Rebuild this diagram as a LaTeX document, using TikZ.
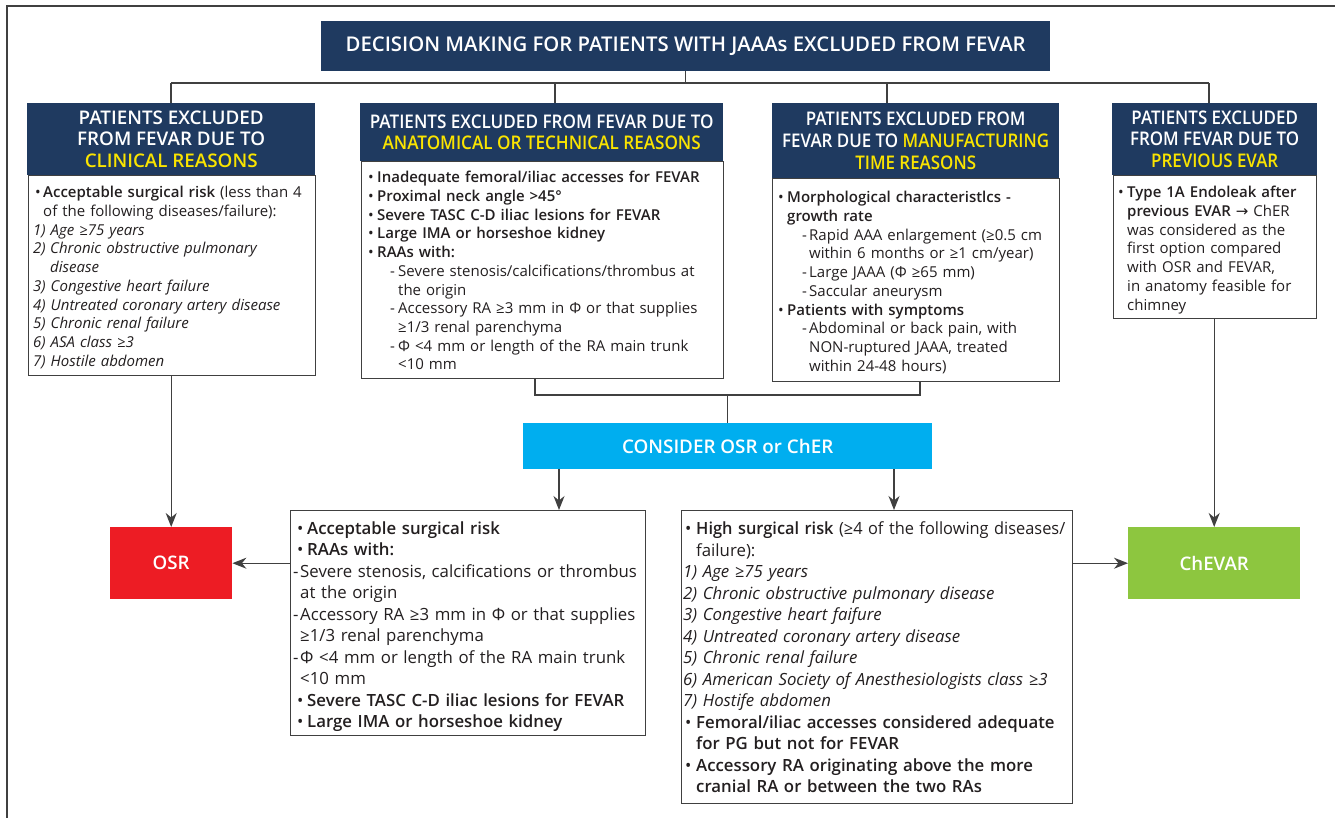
\documentclass[tikz,border=0pt]{standalone}
\usepackage{fontspec}
\setmainfont{Open Sans}[BoldFont={Open Sans Semibold}]
\newfontfamily\symfont{DejaVu Sans}
\usetikzlibrary{arrows.meta}
\definecolor{navy}{RGB}{31,58,96}
\definecolor{hyel}{RGB}{250,228,0}
\definecolor{cyanbox}{RGB}{0,174,239}
\definecolor{osrred}{RGB}{237,28,36}
\definecolor{chgreen}{RGB}{141,198,63}
\definecolor{txt}{RGB}{35,31,32}
\definecolor{lncol}{RGB}{64,64,64}
\newcommand\topfont{\fontsize{15}{18.7}\selectfont\hyphenpenalty=10000 }
\newcommand\botfont{\fontsize{16.8}{21.5}\selectfont\hyphenpenalty=10000 }
\newcommand\hdfont{\fontsize{18.8}{21.7}\selectfont\bfseries}
\newcommand\li[3]{\par\leftskip=#1\relax\hangindent=#2\relax\hangafter=1\noindent\makebox[#2][l]{#3}}
\newcommand\rarr{{\symfont →}}
\newcommand\sx[2]{\scalebox{#1}[1]{#2}}
\begin{document}
\begin{tikzpicture}[x=1pt,y=-1pt,
  lnst/.style={draw=lncol, line width=1.3pt},
  arr/.style={lnst, -{Stealth[length=14pt,width=11pt,inset=4.5pt]}},
  hdr/.style={fill=navy, text=white, font=\hdfont, align=center, inner sep=0pt, anchor=north west},
  lbox/.style={draw=lncol, line width=1.3pt, fill=white, anchor=north west, inner sep=0pt},
  ltext/.style={anchor=north west, inner sep=0pt, align=left, text=txt},
  fbox/.style={text=white, anchor=north west, inner sep=0pt, align=center},
]
\useasboundingbox (0,0) rectangle (1335,818);
\fill[white] (0,0) rectangle (1335,818);
\draw[lnst] (1335,6) -- (7,6) -- (7,818);

% title
\node[hdr, minimum width=729pt, minimum height=50pt, font=\fontsize{20.3}{24}\selectfont\bfseries] (title) at (321,21) {DECISION MAKING FOR PATIENTS WITH JAAAs EXCLUDED FROM FEVAR};

% boxes (top row)
\node[lbox, minimum width=287pt, minimum height=200pt] (b1) at (28,175) {};
\node[lbox, minimum width=362pt, minimum height=217pt] (b2) at (361,161) {};
\node[lbox, minimum width=287pt, minimum height=203pt] (b3) at (772,178) {};
\node[lbox, minimum width=203pt, minimum height=143pt] (b4) at (1113,175) {};

% headers
\node[hdr, minimum width=288pt, minimum height=72pt] (h1) at (27,103) {PATIENTS EXCLUDED\\FROM FEVAR DUE TO\\\textcolor{hyel}{CLINICAL REASONS}};
\node[hdr, minimum width=363pt, minimum height=58pt] (h2) at (360,103) {\sx{0.91}{PATIENTS EXCLUDED FROM FEVAR DUE TO}\\\sx{0.91}{\textcolor{hyel}{ANATOMICAL OR TECHNICAL REASONS}}};
\node[hdr, minimum width=287pt, minimum height=75pt] (h3) at (772,103) {\sx{0.9}{PATIENTS EXCLUDED FROM}\\\sx{0.9}{FEVAR DUE TO \textcolor{hyel}{MANUFACTURING}}\\\sx{0.9}{\textcolor{hyel}{TIME REASONS}}};
\node[hdr, minimum width=205pt, minimum height=72pt] (h4) at (1112,103) {\sx{0.9}{PATIENTS EXCLUDED}\\\sx{0.9}{FROM FEVAR DUE TO}\\\sx{0.9}{\textcolor{hyel}{PREVIOUS EVAR}}};

% box texts
\node[ltext, text width=300pt, font=\topfont] (t1) at (35,179) {%
\li{0pt}{8pt}{•}\textbf{Acceptable surgical risk} (less than 4\newline of the following diseases/failure):
\itshape
\li{-2pt}{0pt}{}1) Age ≥75 years
\li{-2pt}{17pt}{2)}Chronic obstructive pulmonary\newline disease
\li{-2pt}{0pt}{}3) Congestive heart failure
\li{-2pt}{0pt}{}4) Untreated coronary artery disease
\li{-2pt}{0pt}{}5) Chronic renal failure
\li{-2pt}{0pt}{}6) ASA class ≥3
\li{-2pt}{0pt}{}7) Hostile abdomen\par};

\node[ltext, text width=370pt, font=\topfont] (t2) at (368,164) {%
\li{0pt}{9pt}{•}\textbf{Inadequate femoral/iliac accesses for FEVAR}
\li{0pt}{9pt}{•}\textbf{Proximal neck angle >45°}
\li{0pt}{9pt}{•}\textbf{Severe TASC C-D iliac lesions for FEVAR}
\li{0pt}{9pt}{•}\textbf{Large IMA or horseshoe kidney}
\li{0pt}{9pt}{•}\textbf{RAAs with:}
\li{22pt}{8pt}{-}Severe stenosis/calcifications/thrombus at\newline the origin
\li{22pt}{8pt}{-}Accessory RA ≥3 mm in Φ or that supplies\newline ≥1/3 renal parenchyma
\li{22pt}{8pt}{-}Φ <4 mm or length of the RA main trunk\newline <10 mm\par};

\node[ltext, text width=300pt, font=\topfont] (t3) at (778,184) {%
\li{0pt}{9pt}{•}\textbf{Morphological characteristlcs -\newline growth rate}
\li{24pt}{7pt}{-}Rapid AAA enlargement (≥0.5 cm\newline within 6 months or ≥1 cm/year)
\li{24pt}{7pt}{-}Large JAAA (Φ ≥65 mm)
\li{24pt}{7pt}{-}Saccular aneurysm
\li{0pt}{9pt}{•}\textbf{Patients with symptoms}
\li{24pt}{7pt}{-}Abdominal or back pain, with\newline NON-ruptured JAAA, treated\newline within 24-48 hours)\par};

\node[ltext, text width=215pt, font=\topfont] (t4) at (1118,179) {%
\li{0pt}{9pt}{•}\textbf{Type 1A Endoleak after\newline previous EVAR} \rarr{} ChER\newline was considered as the\newline first option compared\newline with OSR and FEVAR,\newline in anatomy feasible for\newline chimney\par};

% consider box
\node[fbox, fill=cyanbox, minimum width=409pt, minimum height=46pt, font=\fontsize{18.8}{22}\selectfont\bfseries] (cons) at (523,423) {CONSIDER OSR or ChER};

% bottom boxes
\node[lbox, minimum width=355pt, minimum height=225pt] (bA) at (290,510) {};
\node[lbox, minimum width=391pt, minimum height=293pt] (bB) at (681,510) {};
\node[fbox, fill=osrred, minimum width=122pt, minimum height=72pt, font=\fontsize{18.7}{20}\selectfont\bfseries] (osr) at (110,527) {OSR};
\node[fbox, fill=chgreen, minimum width=172pt, minimum height=72pt, font=\fontsize{18.7}{20}\selectfont\bfseries] (chevar) at (1128,527) {ChEVAR};

\node[ltext, text width=370pt, font=\botfont] (tA) at (293,512.6) {%
\li{4pt}{10pt}{•}\textbf{Acceptable surgical risk}
\li{4pt}{10pt}{•}\textbf{RAAs with:}
\li{0pt}{7pt}{-}Severe stenosis, calcifications or thrombus\newline at the origin
\li{0pt}{7pt}{-}Accessory RA ≥3 mm in Φ or that supplies\newline ≥1/3 renal parenchyma
\li{0pt}{7pt}{-}Φ <4 mm or length of the RA main trunk\newline <10 mm
\li{4pt}{10pt}{•}\textbf{Severe TASC C-D iliac lesions for FEVAR}
\li{4pt}{10pt}{•}\textbf{Large IMA or horseshoe kidney}\par};

\node[ltext, text width=420pt, font=\botfont] (tB) at (683,513) {%
\li{2pt}{11pt}{•}\sx{0.975}{\textbf{High surgical risk} (≥4 of the following diseases/}\newline failure):
\itshape
\li{0pt}{0pt}{}1) Age ≥75 years
\li{0pt}{0pt}{}2) Chronic obstructive pulmonary disease
\li{0pt}{0pt}{}3) Congestive heart faifure
\li{0pt}{0pt}{}4) Untreated coronary artery disease
\li{0pt}{0pt}{}5) Chronic renal failure
\li{0pt}{0pt}{}6) American Society of Anesthesiologists class ≥3
\li{0pt}{0pt}{}7) Hostife abdomen
\upshape
\li{2pt}{11pt}{•}\textbf{Femoral/iliac accesses considered adequate\newline for PG but not for FEVAR}
\li{2pt}{11pt}{•}\textbf{Accessory RA originating above the more\newline cranial RA or between the two RAs}\par};

% connectors: top bus
\coordinate (bus1) at (171,83);
\coordinate (bus2) at (555,83);
\coordinate (bus3) at (887,83);
\coordinate (bus4) at (1209,83);
\draw[lnst] (bus1) -- (bus4);
\draw[lnst] (title.south) -- (title.south |- bus1);
\draw[lnst] (bus1) -- (bus1 |- h1.north);
\draw[lnst] (bus2) -- (bus2 |- h2.north);
\draw[lnst] (bus3) -- (bus3 |- h3.north);
\draw[lnst] (bus4) -- (bus4 |- h4.north);

% join of boxes 2 and 3
\coordinate (j2) at (535,395);
\coordinate (j3) at (920,395);
\draw[lnst] (b2.south -| j2) -- (j2) -- (j3) -- (b3.south -| j3);
\draw[lnst] (cons.north |- j2) -- (cons.north);

% arrows
\coordinate (xa) at (559,0);
\coordinate (xb) at (894,0);
\draw[arr] (cons.south -| xa) -- (bA.north -| xa);
\draw[arr] (cons.south -| xb) -- (bB.north -| xb);
\draw[arr] (b1.south -| osr.north) -- (osr.north);
\draw[arr] (b4.south -| chevar.north) -- (chevar.north);
\draw[arr] (bA.west |- osr.east) -- (osr.east);
\draw[arr] (bB.east |- chevar.west) -- (chevar.west);
\end{tikzpicture}
\end{document}
